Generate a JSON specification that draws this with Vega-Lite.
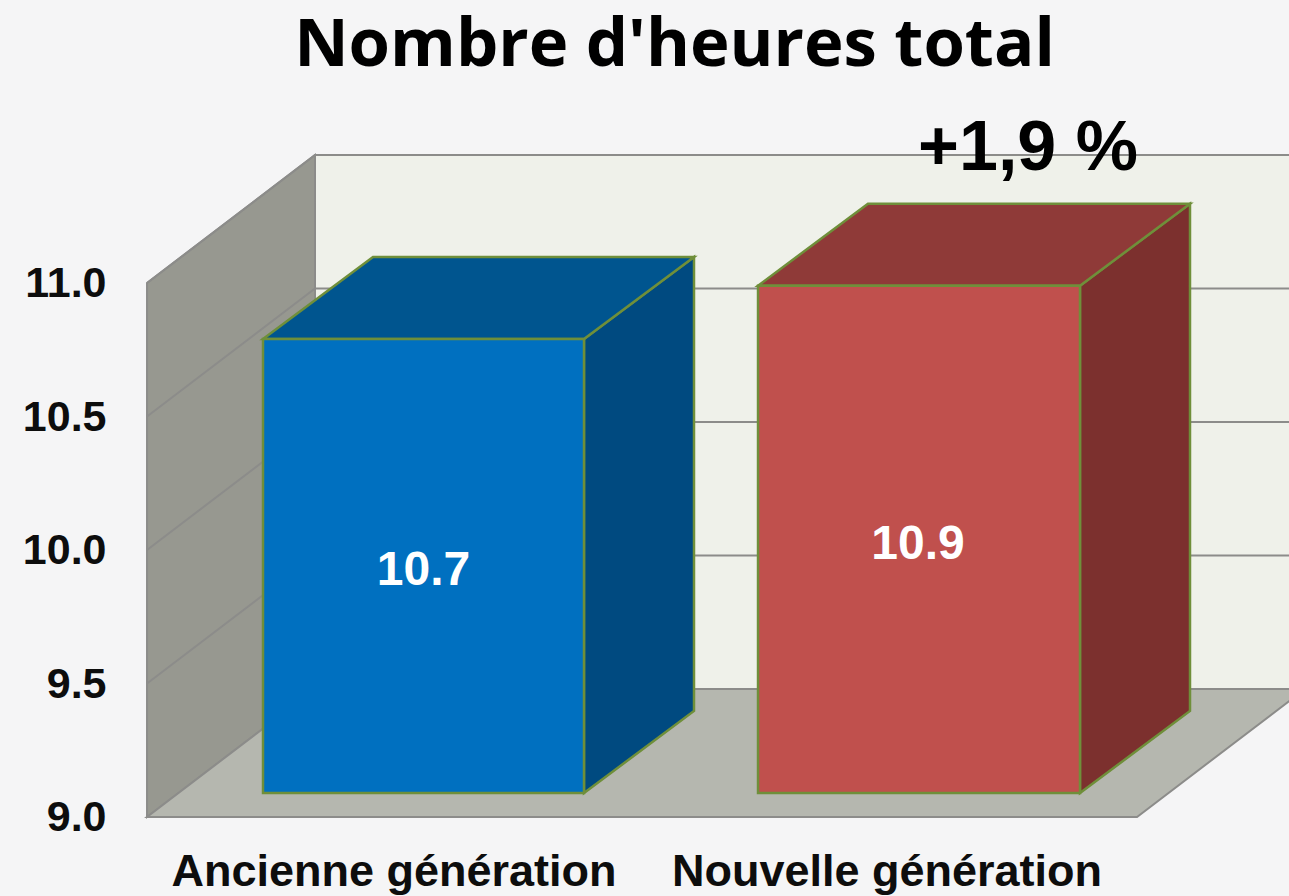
{
"$schema":"https://vega.github.io/schema/vega-lite/v6.json",
"width":1289,"height":896,"padding":0,"autosize":{"type":"none"},
"background":"#f5f5f6",
"config":{"view":{"stroke":null}},
"title":{"text":"Nombre d'heures total","font":"Open Sans","fontWeight":"bold","fontSize":67,"color":"#000000","anchor":"middle","dx":30,"dy":133,"offset":0,"baseline":"alphabetic"},
"datasets":{
"wallsV":[
{"part":"back","x":0.781,"v":9.4794,"v2":11.4794},{"part":"back","x":2.8,"v":9.4794,"v2":11.4794},
{"part":"left","x":0.442,"v":9,"v2":11},{"part":"left","x":0.781,"v":9.4794,"v2":11.4794}],
"floor":[{"part":"floor","v":9,"x":0.442,"x2":2.44},{"part":"floor","v":9.4794,"x":0.781,"x2":2.779}],
"grid":[
{"tick":9.5,"x":0.442,"v":9.5},{"tick":9.5,"x":0.781,"v":9.9794},{"tick":9.5,"x":2.8,"v":9.9794},
{"tick":10,"x":0.442,"v":10},{"tick":10,"x":0.781,"v":10.4794},{"tick":10,"x":2.8,"v":10.4794},
{"tick":10.5,"x":0.442,"v":10.5},{"tick":10.5,"x":0.781,"v":10.9794},{"tick":10.5,"x":2.8,"v":10.9794},
{"tick":11,"x":0.442,"v":11},{"tick":11,"x":0.781,"v":11.4794},{"tick":11,"x":2.8,"v":11.4794}],
"bars":[
{"generation":"Ancienne génération","value":10.7,"base":9,"x":0.6761,"x2":1.3239,"mid":9.83,"labelX":1,"axisX":0.9405,"axisV":8.794},
{"generation":"Nouvelle génération","value":10.9,"base":9,"x":1.6751,"x2":2.3249,"mid":9.93,"labelX":1.998,"axisX":1.9354,"axisV":8.794}],
"sides":[
{"generation":"Ancienne génération","x":1.3239,"v":9.0899,"v2":10.7899},{"generation":"Ancienne génération","x":1.5459,"v":9.397,"v2":11.097},
{"generation":"Nouvelle génération","x":2.3249,"v":9.0899,"v2":10.9899},{"generation":"Nouvelle génération","x":2.5469,"v":9.397,"v2":11.297}],
"tops":[
{"generation":"Ancienne génération","v":10.7899,"x":0.6761,"x2":1.3239},{"generation":"Ancienne génération","v":11.097,"x":0.8981,"x2":1.5459},
{"generation":"Nouvelle génération","v":10.9899,"x":1.6751,"x2":2.3249},{"generation":"Nouvelle génération","v":11.297,"x":1.897,"x2":2.5469}],
"note":[{"text":"+1,9 %","x":2.22,"v":11.5}]
},
"encoding":{
"x":{"field":"x","type":"quantitative","scale":{"domain":[0.1453,2.7467],"nice":false,"zero":false},"axis":null},
"y":{"field":"v","type":"quantitative","scale":{"domain":[8.7041,12.0599],"nice":false,"zero":false},"title":null,
"axis":{"values":[9,9.5,10,10.5,11],"format":".1f","offset":-147,"labelPadding":41,"labelOffset":1,"domain":false,"ticks":false,"grid":false,"labelFont":"Liberation Sans","labelFontWeight":"bold","labelFontSize":43,"labelColor":"#0d0d0d","title":null}}
},
"resolve":{"scale":{"fill":"independent"}},
"layer":[
{"data":{"name":"wallsV"},"mark":{"type":"area","clip":true,"stroke":"#8c8c8a","strokeWidth":2},
"encoding":{
"y2":{"field":"v2"},
"detail":{"field":"part"},
"fill":{"field":"part","type":"nominal","scale":{"domain":["back","left"],"range":["#eff1ea","#979890"]},"legend":null}}},
{"data":{"name":"floor"},"mark":{"type":"area","orient":"horizontal","clip":true,"fill":"#b5b7af","stroke":"#8c8c8a","strokeWidth":2},
"encoding":{
"x2":{"field":"x2"}}},
{"data":{"name":"grid"},"mark":{"type":"line","clip":true,"color":"#8c8c8a","strokeWidth":2},
"encoding":{
"detail":{"field":"tick"}}},
{"data":{"name":"sides"},"mark":{"type":"area","stroke":"#6f8f3a","strokeWidth":2.5},
"encoding":{
"y2":{"field":"v2"},
"detail":{"field":"generation"},
"fill":{"field":"generation","type":"nominal","scale":{"domain":["Ancienne génération","Nouvelle génération"],"range":["#004a80","#7c302e"]},"legend":null}}},
{"data":{"name":"tops"},"mark":{"type":"area","orient":"horizontal","stroke":"#6f8f3a","strokeWidth":2.5},
"encoding":{
"x2":{"field":"x2"},
"detail":{"field":"generation"},
"fill":{"field":"generation","type":"nominal","scale":{"domain":["Ancienne génération","Nouvelle génération"],"range":["#00558f","#8f3a38"]},"legend":null}}},
{"data":{"name":"bars"},"mark":{"type":"rect","yOffset":-24,"y2Offset":-24,"stroke":"#6f8f3a","strokeWidth":2.5},
"encoding":{
"x2":{"field":"x2"},
"y":{"field":"value","type":"quantitative"},
"y2":{"field":"base"},
"fill":{"field":"generation","type":"nominal","scale":{"domain":["Ancienne génération","Nouvelle génération"],"range":["#0070c0","#c0504d"]},"legend":null}}},
{"data":{"name":"bars"},"mark":{"type":"text","yOffset":-24,"font":"Liberation Sans","fontWeight":"bold","fontSize":48,"color":"#ffffff","baseline":"middle"},
"encoding":{
"x":{"field":"labelX","type":"quantitative"},
"y":{"field":"mid","type":"quantitative"},
"text":{"field":"value","type":"quantitative","format":".1f"}}},
{"data":{"name":"bars"},"mark":{"type":"text","font":"Liberation Sans","fontWeight":"bold","fontSize":45,"color":"#0d0d0d","baseline":"middle"},
"encoding":{
"x":{"field":"axisX","type":"quantitative"},
"y":{"field":"axisV","type":"quantitative"},
"text":{"field":"generation"}}},
{"data":{"name":"note"},"mark":{"type":"text","font":"Liberation Sans","fontWeight":"bold","fontSize":70,"color":"#000000","baseline":"middle"},
"encoding":{
"text":{"field":"text"}}}
]
}
